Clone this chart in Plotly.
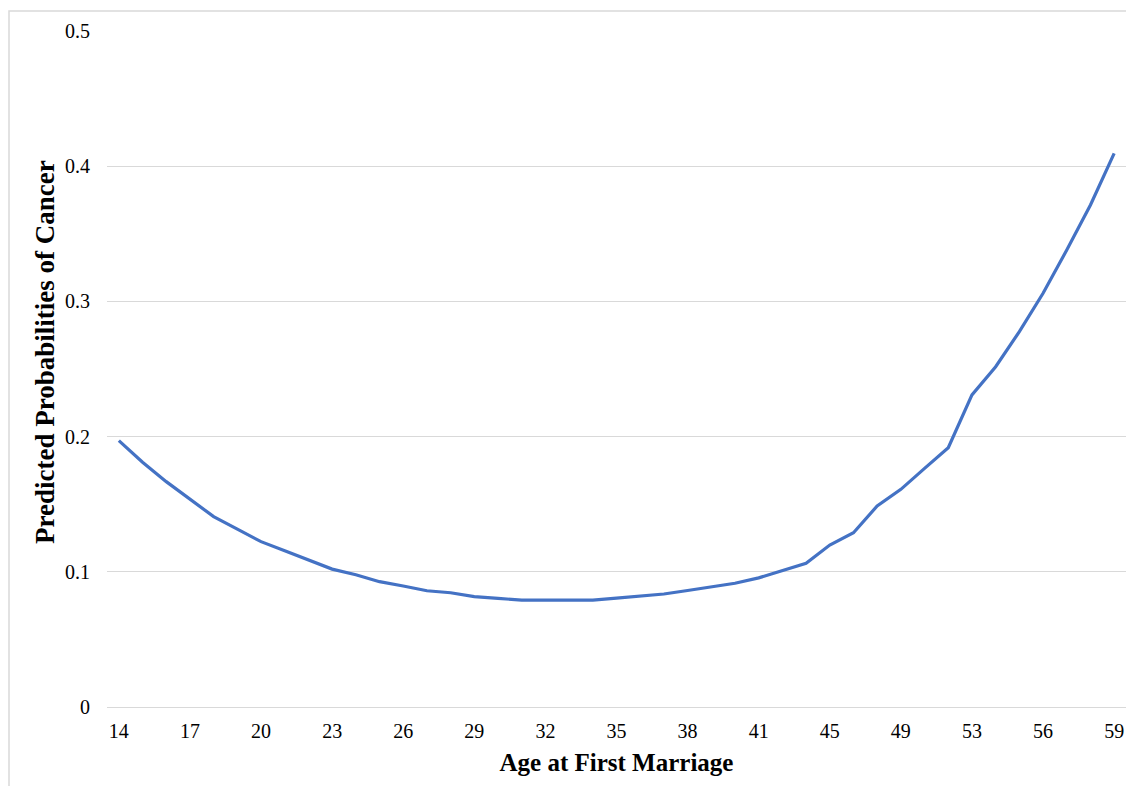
import plotly.graph_objects as go

ages = [14, 15, 16, 17, 18, 19, 20, 21, 22, 23, 24, 25, 26, 27, 28, 29, 30, 31, 32, 33,
        34, 35, 36, 37, 38, 39, 40, 41, 42, 43, 45, 46, 47, 49, 50, 51, 53, 54, 55, 56,
        57, 58, 59]
probabilities = [0.197, 0.181, 0.1667, 0.1535, 0.1408, 0.1315, 0.1223, 0.1155, 0.1087, 0.102,
                 0.0978, 0.0927, 0.0895, 0.086, 0.0845, 0.0816, 0.0803, 0.0791, 0.0791, 0.0791,
                 0.0791, 0.0805, 0.082, 0.0836, 0.0862, 0.0888, 0.0915, 0.0955, 0.101, 0.1063,
                 0.1198, 0.1289, 0.1487, 0.161, 0.1765, 0.1918, 0.2308, 0.2517, 0.2776, 0.306,
                 0.338, 0.3713, 0.4095]
x_tick_labels = ["14", "17", "20", "23", "26", "29", "32", "35", "38", "41", "45", "49", "53", "56", "59"]
y_tick_values = [0, 0.1, 0.2, 0.3, 0.4, 0.5]
y_tick_labels = ["0", "0.1", "0.2", "0.3", "0.4", "0.5"]

x_cats = [str(a) for a in ages]

fig = go.Figure()
fig.add_trace(go.Scatter(
    x=x_cats, y=probabilities, mode="lines",
    line=dict(color="#4472C4", width=3.2),
    showlegend=False,
))

font_family = "Liberation Serif, Times New Roman, serif"
W, H = 1118, 778
L, T, B, R = 99, 23, 79, 0
pw, ph = W - L - R, H - T - B
fig.update_layout(
    width=W, height=H,
    margin=dict(l=L, r=R, t=T, b=B),
    paper_bgcolor="white", plot_bgcolor="white",
    font=dict(family=font_family, color="#000000"),
    xaxis=dict(
        type="category",
        categoryorder="array", categoryarray=x_cats,
        range=[-0.5, len(x_cats) - 0.5],
        tickmode="array", tickvals=x_tick_labels, ticktext=x_tick_labels,
        tickfont=dict(size=20, family=font_family, color="#000000"),
        showgrid=False, showline=False, zeroline=False,
        ticks="", ticklabelstandoff=10,
        title=dict(text="<b>Age at First Marriage</b>", font=dict(size=25, family=font_family), standoff=12),
    ),
    yaxis=dict(
        range=[0, 0.5],
        tickmode="array", tickvals=y_tick_values, ticktext=y_tick_labels,
        tickfont=dict(size=20, family=font_family, color="#000000"),
        showgrid=True, gridcolor="#d9d9d9", gridwidth=1,
        zeroline=True, zerolinecolor="#d9d9d9", zerolinewidth=1,
        showline=False, ticks="", ticklabelstandoff=16,
    ),
    annotations=[dict(
        text="<b>Predicted Probabilities of Cancer</b>",
        xref="paper", yref="paper",
        x=(37 - L) / pw, y=(H - B - 344) / ph,
        xanchor="center", yanchor="middle",
        textangle=-90, showarrow=False,
        font=dict(size=27, family=font_family, color="#000000"),
    )],
    shapes=[dict(
        type="rect", xref="paper", yref="paper",
        x0=(1 - L) / pw, x1=(W + 20 - L) / pw,
        y0=-(B + 20) / ph, y1=(ph + T - 3) / ph,
        line=dict(color="#d9d9d9", width=1.5), fillcolor="rgba(0,0,0,0)", layer="below",
    )],
)

fig.write_html("out.html")
